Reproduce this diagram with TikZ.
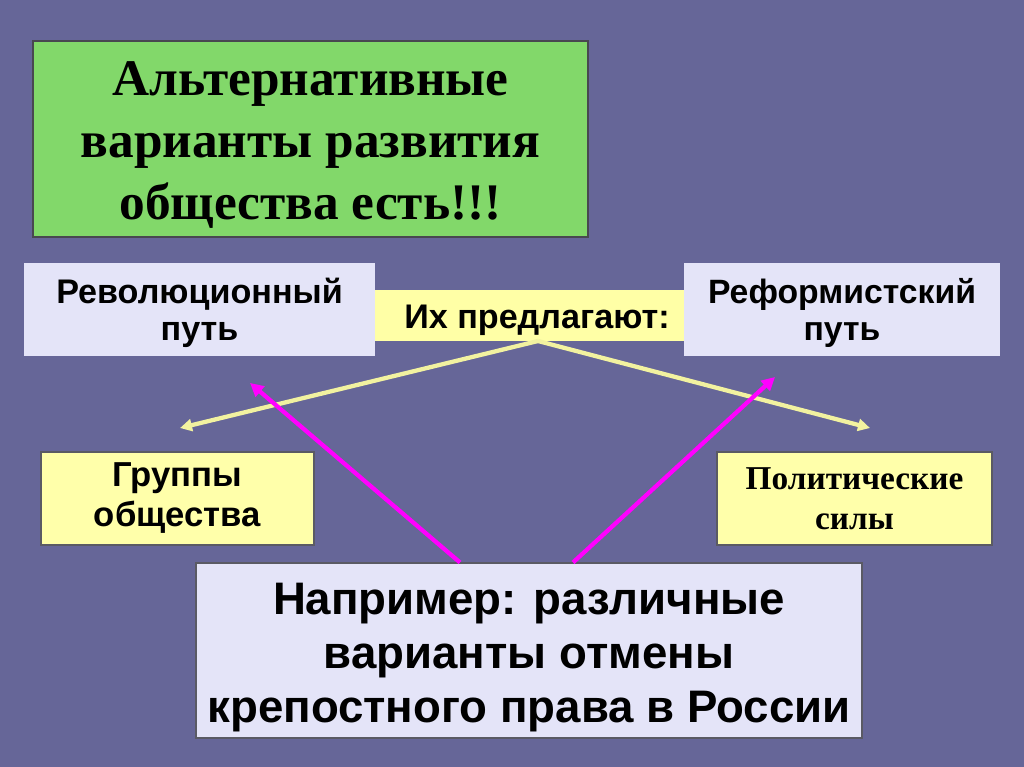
\documentclass[tikz,border=0pt]{standalone}
\usepackage{fontspec}
\setmainfont{Liberation Sans}
\newfontfamily\tms{Liberation Serif}
\usetikzlibrary{arrows.meta}
\definecolor{bg}{RGB}{102,102,152}
\definecolor{grn}{RGB}{130,216,106}
\definecolor{lav}{RGB}{228,228,248}
\definecolor{ylw}{RGB}{255,255,166}
\definecolor{ylwl}{RGB}{255,255,170}
\definecolor{arry}{RGB}{242,242,160}
\definecolor{mag}{RGB}{255,0,255}
\definecolor{edge}{RGB}{90,90,100}
\tikzset{
  box/.style={draw=edge, line width=0.8pt, inner sep=0pt, align=center, font=\bfseries},
  txt/.style={inner sep=0pt, align=center},
  yarrow/.style={draw=arry, line width=3.2pt, -{Triangle[length=9pt,width=9pt]}},
  marrow/.style={draw=mag, line width=3.2pt, -{Triangle[length=10pt,width=10pt]}},
}
\begin{document}
\begin{tikzpicture}[x=0.75pt,y=-0.75pt]
\useasboundingbox (0,0) rectangle (1024,767);
\fill[bg] (0,0) rectangle (1024,767);
\node[box, fill=grn, draw=edge!80!black, minimum width=416.25pt, minimum height=147pt] (title) at (310.5,139) {};
\node[txt, font=\tms\bfseries\fontsize{38.5}{46.5}\selectfont] (titleT) at (310.5,145)
  {Альтернативные\\варианты развития\\общества есть!!!};
\node[box, fill=ylw, draw=none, minimum width=231.75pt, minimum height=38.25pt] (yel) at (529.5,315.5) {};
\node[txt, font=\bfseries\fontsize{25.6}{28}\selectfont] (yelT) at (537,320) {Их предлагают:};
\node[box, fill=lav, draw=none, minimum width=263.25pt, minimum height=69.75pt] (rev) at (199.5,309.5) {};
\node[txt, font=\bfseries\fontsize{25.6}{27.75}\selectfont] (revT) at (199.5,312.5) {Революционный\\путь};
\node[box, fill=lav, draw=none, minimum width=237pt, minimum height=69.75pt] (ref) at (842,309.5) {};
\node[txt, font=\bfseries\fontsize{25.3}{27.75}\selectfont] (refT) at (842,312.5) {Реформистский\\путь};
\node[box, fill=ylwl, minimum width=204.75pt, minimum height=69.75pt,
  font=\bfseries\fontsize{26}{30}\selectfont] (grp) at (177.5,498.5) {Группы\\общества};
\node[box, fill=ylwl, minimum width=206.25pt, minimum height=69.75pt,
  font=\tms\bfseries\fontsize{25}{30}\selectfont] (pol) at (854.5,498.5) {Политические\\силы};
\node[box, fill=lav, minimum width=499.5pt, minimum height=131.25pt] (bot) at (529,650.5) {};
\node[txt, font=\bfseries\fontsize{34.2}{40.5}\selectfont] (botT) at (529,658)
  {Например: различные\\варианты отмены\\крепостного права в России};
\coordinate (ya) at (538,341);
\coordinate (yl) at (180,428);
\coordinate (yr) at (870,428);
\coordinate (ml) at (250,383);
\coordinate (mr) at (775,377);
\draw[yarrow] (ya) -- (yl);
\draw[yarrow] (ya) -- (yr);
\draw[marrow] (bot.north -| 460,0) -- (ml);
\draw[marrow] (bot.north -| 573,0) -- (mr);
\end{tikzpicture}
\end{document}
